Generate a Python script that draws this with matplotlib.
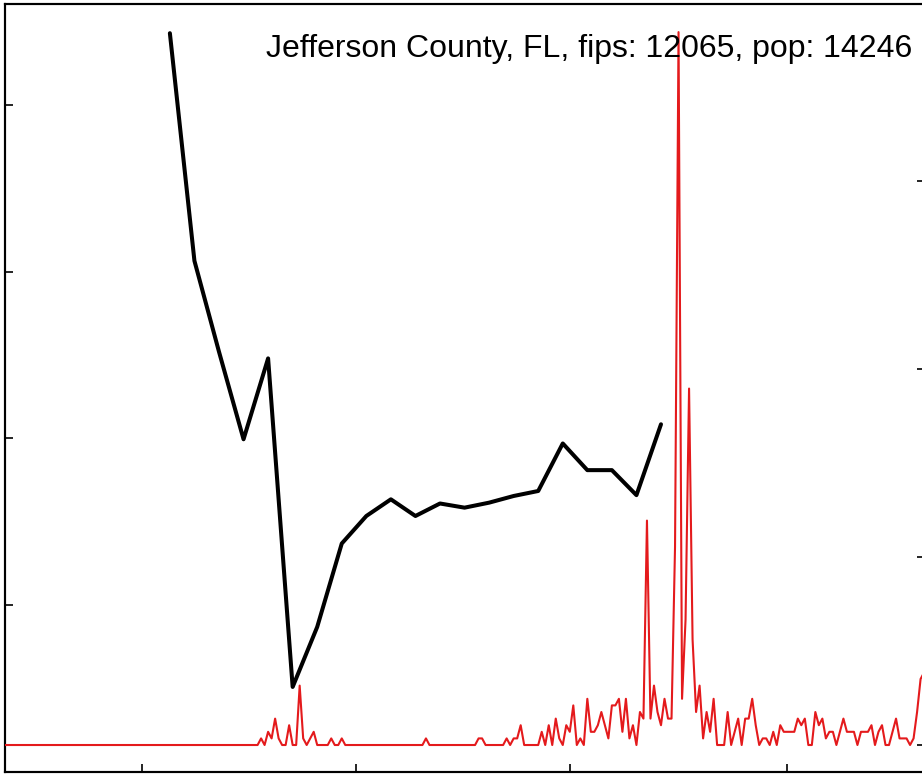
import matplotlib
matplotlib.use("Agg")
import matplotlib.pyplot as plt
import numpy as np

# ---------------- data ----------------
title = "Jefferson County, FL, fips: 12065, pop: 14246"
population = 14246

# black series: weekly values (left axis), one point every 7 days
black_days = [47, 54, 61, 68, 75, 82, 89, 96, 103, 110, 117, 124, 131, 138,
              145, 152, 159, 166, 173, 180, 187]
black_vals = [0.886, 0.613, 0.504, 0.399, 0.496, 0.102, 0.174, 0.274, 0.307,
              0.327, 0.307, 0.322, 0.317, 0.323, 0.331, 0.337, 0.394, 0.362,
              0.362, 0.332, 0.417]

# red series: daily new cases (right axis), day 0 .. 262
red_cases = ([0] * 73 +
             [1, 0, 2, 1, 4, 1, 0, 0, 3, 0, 0, 9, 1, 0, 1, 2, 0, 0, 0, 0, 1, 0, 0, 1] +
             [0] * 23 +
             [1] + [0] * 14 + [1, 1] + [0] * 6 +
             [1, 0, 1, 1, 3, 0, 0, 0, 0, 0,
              2, 0, 3, 0, 4, 1, 0, 3, 2, 6, 0, 1, 0,
              7, 2, 2, 3, 5, 3, 1, 6, 6, 7, 2, 7, 1, 3, 0, 5, 4,
              34, 4, 9, 5, 3, 7, 4, 4, 30, 108, 7, 19, 54, 16, 5, 9,
              1, 5, 2, 7, 0, 0, 0, 5, 0, 2, 4, 0, 4, 4, 7, 3, 0,
              1, 1, 0, 2, 0, 3, 2, 2, 2, 2, 4, 3, 4, 0, 0, 5, 3, 4, 1,
              2, 2, 0, 2, 4, 2, 2, 2, 0, 2, 2, 2, 3, 0, 2, 3, 0, 0, 2,
              4, 1, 1, 1, 0, 1, 5, 10, 11])
red_days = list(range(len(red_cases)))

x_ticks = [39, 100, 161, 223]
left_ticks = [0.2, 0.4, 0.6, 0.8]
right_ticks = [0, 20, 40, 60]

# ---------------- figure ----------------
W, H = 922, 774
fig = plt.figure(figsize=(W / 100, H / 100), dpi=100)
ax = fig.add_axes([5 / W, 2 / H, 920 / W, 768 / H])

ax.plot(black_days, black_vals, color="black", lw=2.9, solid_joinstyle="round",
        solid_capstyle="round", zorder=3)
ax.set_xlim(0, 920 / 3.508)
ax.set_ylim(0, 0.921)
ax.set_xticks(x_ticks)
ax.set_yticks(left_ticks)
ax.tick_params(axis="both", direction="in", length=5.5, width=1.2,
               labelleft=False, labelbottom=False, colors="black")

ax2 = ax.twinx()
red_per10k = np.array(red_cases) * 1e4 / population
ax2.plot(red_days, red_per10k, color="#e41a1c", lw=1.5, zorder=3,
         solid_joinstyle="round")
ax2.set_ylim(-2.87, 78.8)
ax2.set_yticks(right_ticks)
ax2.tick_params(axis="y", direction="in", length=5.5, width=1.2,
                labelright=False)

for a in (ax, ax2):
    for s in a.spines.values():
        s.set_linewidth(1.5)
        s.set_color("black")

# title text inside the panel, right aligned
txt = fig.text(912 / W, 1 - 57 / H, title, ha="right", va="baseline",
               fontsize=20, family=["Liberation Sans", "DejaVu Sans"])
fig.canvas.draw()
bb = txt.get_window_extent()
target_w = 912 - 267
txt.set_fontsize(20 * target_w / bb.width)

fig.savefig("out.png", dpi=100)
